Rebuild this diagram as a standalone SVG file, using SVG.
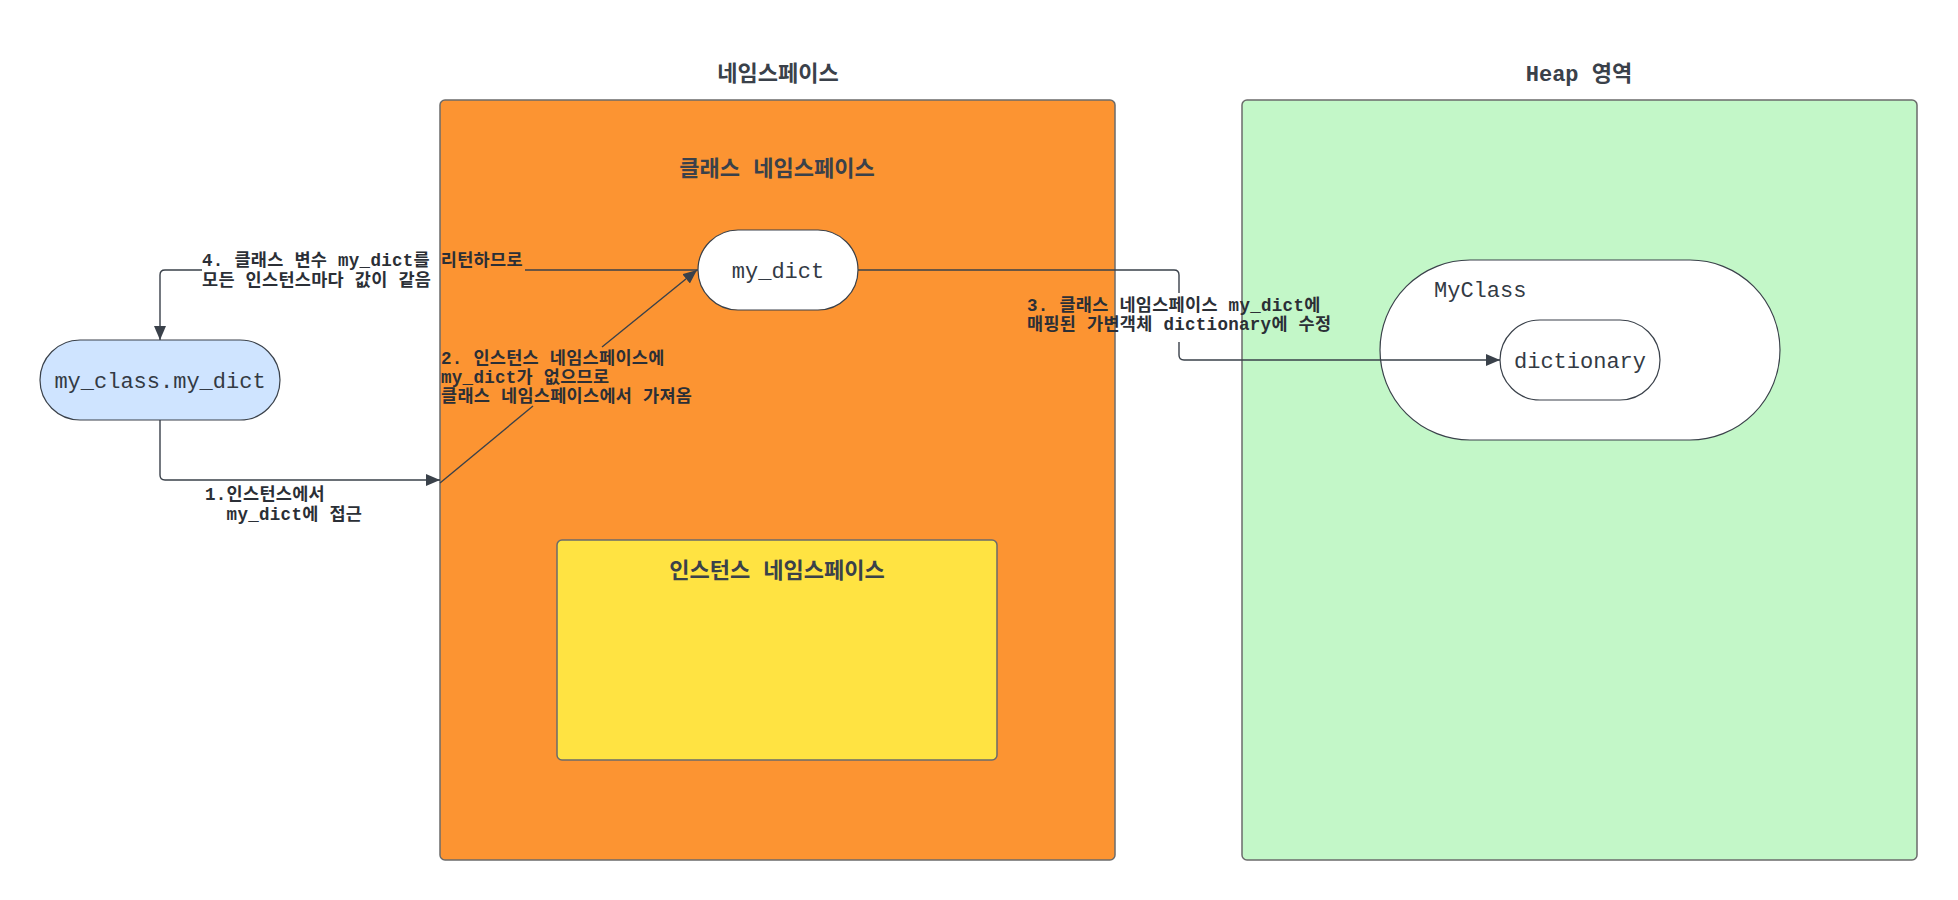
<svg xmlns="http://www.w3.org/2000/svg" width="1958" height="900" viewBox="0 0 1958 900">
<style>
.box{stroke:#6b6b6b;stroke-width:1.5}
.node{stroke:#3a414a;stroke-width:1.2}
.title{font-family:"Liberation Mono","Noto Sans CJK KR",monospace;font-weight:bold;font-size:22px;fill:#3a414a;text-anchor:middle}
.ntext{font-family:"Liberation Mono","Noto Sans CJK KR",monospace;font-size:22px;fill:#333a44}
.lbl{font-family:"Liberation Mono","Noto Sans CJK KR",monospace;font-weight:bold;font-size:17.5px;letter-spacing:0.3px;fill:#2b2f36}
.conn{fill:none;stroke:#3a414a;stroke-width:1.4}
</style>
<defs>
<marker id="arr" markerUnits="userSpaceOnUse" markerWidth="16" markerHeight="14" refX="14" refY="6" orient="auto">
<path d="M0,0 L14,6 L0,12 z" fill="#3a414a"/>
</marker>
</defs>
<rect width="1958" height="900" fill="#ffffff"/>

<g id="namespace">
<rect class="box" x="440" y="100" width="675" height="760" rx="5" fill="#fc9432"/>
<text class="title" x="778" y="81">네임스페이스</text>
<text class="title" x="777" y="176">클래스 네임스페이스</text>
</g>

<g id="heap">
<rect class="box" x="1242" y="100" width="675" height="760" rx="5" fill="#c3f7c8"/>
<text class="title" x="1579" y="81">Heap 영역</text>
</g>

<g id="instance-namespace">
<rect class="box" x="557" y="540" width="440" height="220" rx="5" fill="#ffe342"/>
<text class="title" x="777" y="578">인스턴스 네임스페이스</text>
</g>

<g id="my_class_my_dict">
<rect class="node" x="40" y="340" width="240" height="80" rx="40" fill="#cfe4ff"/>
<text class="ntext" x="160" y="388" text-anchor="middle">my_class.my_dict</text>
</g>

<g id="my_dict">
<rect class="node" x="698" y="230" width="160" height="80" rx="40" fill="#ffffff"/>
<text class="ntext" x="778" y="278" text-anchor="middle">my_dict</text>
</g>

<g id="MyClass">
<rect class="node" x="1380" y="260" width="400" height="180" rx="90" fill="#ffffff"/>
<text class="ntext" x="1434" y="297">MyClass</text>
</g>

<g id="dictionary">
<rect class="node" x="1500" y="320" width="160" height="80" rx="40" fill="#ffffff"/>
<text class="ntext" x="1580" y="368" text-anchor="middle">dictionary</text>
</g>

<g id="connectors">
<path class="conn" d="M160,420 L160,475 Q160,480 165,480 L440,480" marker-end="url(#arr)"/>
<path class="conn" d="M440,483 L533,406"/>
<path class="conn" d="M602,347 L697,270" marker-end="url(#arr)"/>
<path class="conn" d="M858,270 L1174,270 Q1179,270 1179,275 L1179,293"/>
<path class="conn" d="M1179,342 L1179,355 Q1179,360 1184,360 L1500,360" marker-end="url(#arr)"/>
<path class="conn" d="M698,270 L525,270"/>
<path class="conn" d="M202,270 L165,270 Q160,270 160,275 L160,340" marker-end="url(#arr)"/>
</g>

<g id="labels">
<text class="lbl" x="205" y="500">1.인스턴스에서</text>
<text class="lbl" x="205" y="520" xml:space="preserve">  my_dict에 접근</text>
<text class="lbl" x="441" y="364">2. 인스턴스 네임스페이스에</text>
<text class="lbl" x="441" y="383">my_dict가 없으므로</text>
<text class="lbl" x="441" y="402">클래스 네임스페이스에서 가져옴</text>
<text class="lbl" x="1027" y="311">3. 클래스 네임스페이스 my_dict에</text>
<text class="lbl" x="1027" y="330">매핑된 가변객체 dictionary에 수정</text>
<text class="lbl" x="202" y="266">4. 클래스 변수 my_dict를 리턴하므로</text>
<text class="lbl" x="202" y="286">모든 인스턴스마다 값이 같음</text>
</g>
</svg>
